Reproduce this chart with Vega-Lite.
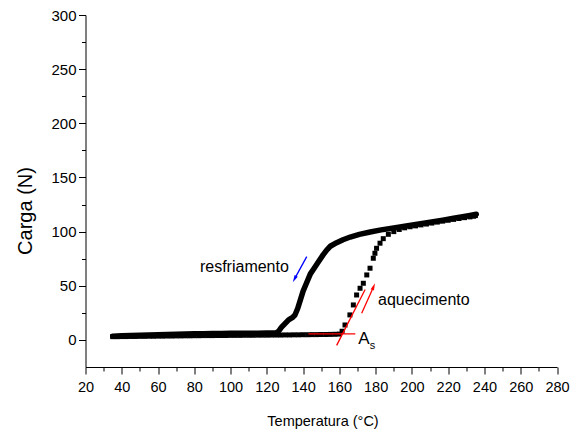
{
  "$schema": "https://vega.github.io/schema/vega-lite/v6.json",
  "width": 471.5,
  "height": 352,
  "autosize": {"type": "none"},
  "padding": {"left": 85.5, "top": 15, "right": 21, "bottom": 65},
  "background": "white",
  "config": {"view": {"stroke": null}, "font": "Liberation Sans", "axis": {"labelOverlap": false}},
  "datasets": {
    "cool": [
      {"x": 35, "y": 3.5}, {"x": 40, "y": 3.8}, {"x": 45, "y": 4.0}, {"x": 50, "y": 4.2}, {"x": 55, "y": 4.5},
      {"x": 60, "y": 4.7}, {"x": 65, "y": 5.0}, {"x": 70, "y": 5.2}, {"x": 75, "y": 5.4}, {"x": 80, "y": 5.6},
      {"x": 85, "y": 5.8}, {"x": 90, "y": 5.9}, {"x": 95, "y": 6.0}, {"x": 100, "y": 6.1}, {"x": 105, "y": 6.1},
      {"x": 110, "y": 6.2}, {"x": 115, "y": 6.2}, {"x": 120, "y": 6.3}, {"x": 125, "y": 6.3}, {"x": 126.5, "y": 8},
      {"x": 128, "y": 11.5}, {"x": 130, "y": 15}, {"x": 132, "y": 18.5}, {"x": 134, "y": 20.5}, {"x": 135.5, "y": 23},
      {"x": 137, "y": 29}, {"x": 138.5, "y": 37}, {"x": 140, "y": 45}, {"x": 142, "y": 53}, {"x": 144, "y": 61},
      {"x": 146, "y": 66}, {"x": 148, "y": 71}, {"x": 151, "y": 78.5}, {"x": 153, "y": 83}, {"x": 155, "y": 86.5},
      {"x": 158.5, "y": 89.8}, {"x": 162, "y": 92.5}, {"x": 166, "y": 95}, {"x": 171, "y": 97.5}, {"x": 177, "y": 99.7},
      {"x": 183, "y": 101.6}, {"x": 190, "y": 103.3}, {"x": 196, "y": 104.9}, {"x": 203, "y": 106.8}, {"x": 210, "y": 108.6},
      {"x": 217, "y": 110.5}, {"x": 223, "y": 112.3}, {"x": 228, "y": 113.7}, {"x": 232, "y": 114.9}, {"x": 235.5, "y": 116}
    ],
    "heat": [
      {"x": 35, "y": 3.0}, {"x": 37.5, "y": 3.0}, {"x": 40, "y": 3.1}, {"x": 42.5, "y": 3.1}, {"x": 45, "y": 3.2},
      {"x": 47.5, "y": 3.2}, {"x": 50, "y": 3.3}, {"x": 52.5, "y": 3.3}, {"x": 55, "y": 3.4}, {"x": 57.5, "y": 3.4},
      {"x": 60, "y": 3.5}, {"x": 62.5, "y": 3.5}, {"x": 65, "y": 3.6}, {"x": 67.5, "y": 3.6}, {"x": 70, "y": 3.7},
      {"x": 72.5, "y": 3.7}, {"x": 75, "y": 3.8}, {"x": 77.5, "y": 3.8}, {"x": 80, "y": 3.9}, {"x": 82.5, "y": 3.9},
      {"x": 85, "y": 4.0}, {"x": 87.5, "y": 4.0}, {"x": 90, "y": 4.0}, {"x": 92.5, "y": 4.1}, {"x": 95, "y": 4.1},
      {"x": 97.5, "y": 4.1}, {"x": 100, "y": 4.2}, {"x": 102.5, "y": 4.2}, {"x": 105, "y": 4.2}, {"x": 107.5, "y": 4.3},
      {"x": 110, "y": 4.3}, {"x": 112.5, "y": 4.3}, {"x": 115, "y": 4.4}, {"x": 117.5, "y": 4.4}, {"x": 120, "y": 4.4},
      {"x": 122.5, "y": 4.5}, {"x": 125, "y": 4.5}, {"x": 127.5, "y": 4.5}, {"x": 130, "y": 4.6}, {"x": 132.5, "y": 4.6},
      {"x": 135, "y": 4.7}, {"x": 137.5, "y": 4.7}, {"x": 140, "y": 4.8}, {"x": 142.5, "y": 4.8}, {"x": 145, "y": 4.9},
      {"x": 147.5, "y": 4.9}, {"x": 150, "y": 5.0}, {"x": 152.5, "y": 5.0}, {"x": 155, "y": 5.1}, {"x": 157.5, "y": 5.2},
      {"x": 160, "y": 5.4}, {"x": 161.5, "y": 8}, {"x": 163.1, "y": 13.8}, {"x": 165.8, "y": 23.1}, {"x": 167.7, "y": 32.3},
      {"x": 169.5, "y": 41.5}, {"x": 171.4, "y": 47.7}, {"x": 173.2, "y": 52.3}, {"x": 175.1, "y": 60}, {"x": 176.9, "y": 66.2},
      {"x": 178.7, "y": 75.4}, {"x": 179.6, "y": 80}, {"x": 180.5, "y": 84.6}, {"x": 182.4, "y": 89.3}, {"x": 184.2, "y": 93.5},
      {"x": 187, "y": 97.5}, {"x": 190, "y": 100}, {"x": 193, "y": 102}, {"x": 196, "y": 103.5}, {"x": 199, "y": 104.5},
      {"x": 202, "y": 105.3}, {"x": 205, "y": 106.2}, {"x": 208, "y": 107}, {"x": 211, "y": 107.9}, {"x": 214, "y": 108.8},
      {"x": 217, "y": 109.7}, {"x": 220, "y": 110.5}, {"x": 223, "y": 111.3}, {"x": 226, "y": 112.1}, {"x": 229, "y": 112.9},
      {"x": 232, "y": 113.6}, {"x": 234, "y": 114.2}, {"x": 235, "y": 114.8}
    ],
    "redLines": [
      {"x": 142.9, "y": 5.5, "x2": 168.8, "y2": 5.5},
      {"x": 158.5, "y": -5, "x2": 174.2, "y2": 46.5},
      {"x": 172.3, "y": 24.6, "x2": 178.8, "y2": 48.9}
    ],
    "redHead": [{"x": 178.8, "y": 48.9}],
    "blueLine": [{"x": 142, "y": 76.9, "x2": 135.35, "y2": 56.55}],
    "blueHead": [{"x": 135.35, "y": 56.55}],
    "labels": [
      {"x": 83.1, "y": 62.6, "label": "resfriamento"},
      {"x": 181.3, "y": 32.3, "label": "aquecimento"}
    ],
    "labelA": [{"x": 170.4, "y": -3.7, "label": "A"}],
    "labelS": [{"x": 176.8, "y": -8.6, "label": "s"}]
  },
  "encoding": {
    "x": {
      "field": "x", "type": "quantitative",
      "scale": {"domain": [20, 280], "nice": false, "zero": false},
      "axis": {
        "values": [20, 30, 40, 50, 60, 70, 80, 90, 100, 110, 120, 130, 140, 150, 160, 170, 180, 190, 200, 210, 220, 230, 240, 250, 260, 270, 280],
        "labelExpr": "datum.value % 20 === 0 ? datum.label : ''",
        "tickSize": {"condition": {"test": "datum.value % 20 === 0", "value": 7}, "value": 4},
        "grid": false, "domainColor": "black", "tickColor": "black", "labelColor": "black",
        "labelFontSize": 14.5, "labelPadding": 6, "labelFlush": false, "labelOverlap": false, "labelBound": false,
        "title": "Temperatura (°C)", "titleFontSize": 14.5, "titleFontWeight": "normal", "titleColor": "black",
        "titleBaseline": "alphabetic", "titleAlign": "center", "titleX": 237, "titleY": 58
      }
    },
    "y": {
      "field": "y", "type": "quantitative",
      "scale": {"domain": [-25, 300], "nice": false, "zero": false},
      "axis": {
        "values": [0, 25, 50, 75, 100, 125, 150, 175, 200, 225, 250, 275, 300],
        "labelExpr": "datum.value % 50 === 0 ? datum.label : ''",
        "tickSize": {"condition": {"test": "datum.value % 50 === 0", "value": 7}, "value": 4},
        "grid": false, "domainColor": "black", "tickColor": "black", "labelColor": "black",
        "labelFontSize": 15, "labelPadding": 2.5, "labelFlush": false, "labelOverlap": false,
        "title": "Carga (N)", "titleFontSize": 20, "titleFontWeight": "normal", "titleColor": "black",
        "titleBaseline": "alphabetic", "titleAlign": "center", "titleAngle": 270, "titleX": -54.5, "titleY": 195.5
      }
    }
  },
  "layer": [
    {
      "data": {"name": "cool"},
      "mark": {"type": "line", "color": "black", "strokeWidth": 5.5, "strokeCap": "round", "strokeJoin": "round"}
    },
    {
      "data": {"name": "heat"},
      "mark": {"type": "point", "shape": "square", "filled": true, "color": "black", "size": 25, "opacity": 1}
    },
    {
      "data": {"name": "redLines"},
      "mark": {"type": "rule", "color": "red", "strokeWidth": 1.3},
      "encoding": {"x2": {"field": "x2"}, "y2": {"field": "y2"}}
    },
    {
      "data": {"name": "redHead"},
      "mark": {"type": "point", "shape": "M0,-1L0.45,0.8L-0.45,0.8Z", "filled": true, "color": "red", "size": 64, "opacity": 1, "angle": 22}
    },
    {
      "data": {"name": "blueLine"},
      "mark": {"type": "rule", "color": "blue", "strokeWidth": 1.3},
      "encoding": {"x2": {"field": "x2"}, "y2": {"field": "y2"}}
    },
    {
      "data": {"name": "blueHead"},
      "mark": {"type": "point", "shape": "M0,-1L0.45,0.8L-0.45,0.8Z", "filled": true, "color": "blue", "size": 64, "opacity": 1, "angle": 208}
    },
    {
      "data": {"name": "labels"},
      "mark": {"type": "text", "align": "left", "baseline": "alphabetic", "fontSize": 16, "color": "black"},
      "encoding": {"text": {"field": "label"}}
    },
    {
      "data": {"name": "labelA"},
      "mark": {"type": "text", "align": "left", "baseline": "alphabetic", "fontSize": 17, "color": "black"},
      "encoding": {"text": {"field": "label"}}
    },
    {
      "data": {"name": "labelS"},
      "mark": {"type": "text", "align": "left", "baseline": "alphabetic", "fontSize": 11, "color": "black"},
      "encoding": {"text": {"field": "label"}}
    }
  ]
}
